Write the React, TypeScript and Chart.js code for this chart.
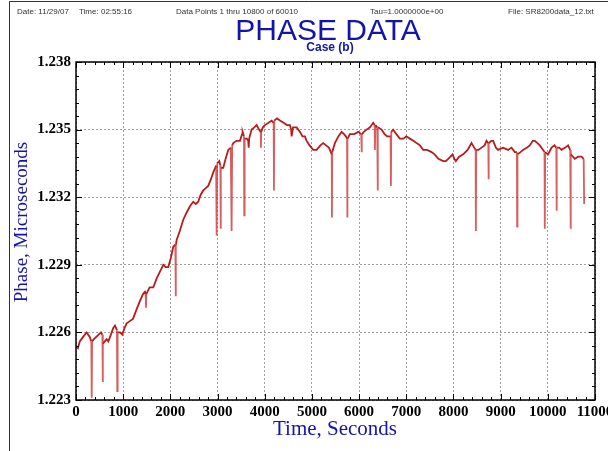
import { useEffect, useRef } from "react";
import { Chart, registerables } from "chart.js";

Chart.register(...registerables);

// Time (seconds) and phase (microseconds)
const times = [
  0, 40, 80, 150, 227, 290, 325, 333, 341, 380, 430, 480, 530, 560, 565, 572, 610, 650, 685, 740,
  790, 826, 868, 875, 882, 932, 980, 1030, 1074, 1140, 1208, 1280, 1356, 1420, 1462, 1478, 1483, 1490, 1560, 1638,
  1710, 1780, 1850, 1900, 1955, 2010, 2061, 2105, 2112, 2119, 2133, 2200, 2273, 2340, 2415, 2485, 2540, 2591, 2640, 2697,
  2750, 2803, 2860, 2909, 2970, 2981, 2992, 3036, 3060, 3065, 3072, 3121, 3170, 3227, 3280, 3298, 3310, 3333, 3400, 3475,
  3520, 3531, 3560, 3566, 3574, 3620, 3651, 3660, 3670, 3722, 3780, 3828, 3880, 3915, 3919, 3925, 3960, 4004, 4080, 4146,
  4190, 4195, 4202, 4260, 4322, 4400, 4470, 4534, 4560, 4570, 4600, 4676, 4746, 4800, 4852, 4888, 4950, 5028, 5100, 5180,
  5239, 5300, 5360, 5381, 5420, 5424, 5430, 5487, 5560, 5629, 5680, 5720, 5745, 5749, 5756, 5805, 5900, 5981, 6045, 6052,
  6060, 6100, 6159, 6230, 6299, 6330, 6335, 6345, 6385, 6392, 6400, 6477, 6540, 6595, 6668, 6674, 6682, 6722, 6790, 6864,
  6940, 7000, 7076, 7150, 7218, 7290, 7358, 7440, 7536, 7600, 7680, 7782, 7840, 7888, 7940, 7981, 8020, 8051, 8120, 8206,
  8300, 8383, 8440, 8470, 8475, 8482, 8530, 8595, 8660, 8701, 8738, 8743, 8750, 8800, 8841, 8900, 8947, 9050, 9159, 9230,
  9301, 9345, 9350, 9357, 9420, 9477, 9560, 9619, 9680, 9725, 9780, 9831, 9900, 9930, 9936, 9944, 10006, 10080, 10140, 10180,
  10184, 10192, 10240, 10290, 10370, 10430, 10475, 10481, 10490, 10572, 10640, 10714, 10760, 10770,
];

const phase = [
  1.2254, 1.2253, 1.2256, 1.2258, 1.226, 1.2258, 1.2256, 1.2231, 1.2256, 1.2257, 1.2258, 1.2259, 1.226, 1.2259, 1.2238, 1.2255, 1.2256, 1.2257, 1.2256, 1.2259,
  1.2262, 1.2263, 1.2261, 1.2234, 1.226, 1.226, 1.2259, 1.2262, 1.2264, 1.2265, 1.2266, 1.227, 1.2274, 1.2277, 1.2278, 1.2277, 1.2271, 1.2277, 1.228, 1.228,
  1.2284, 1.2287, 1.229, 1.2289, 1.2289, 1.2293, 1.2298, 1.2299, 1.2276, 1.2299, 1.2301, 1.2305, 1.231, 1.2313, 1.2316, 1.2318, 1.2317, 1.2318, 1.2321, 1.2323,
  1.2324, 1.2325, 1.2328, 1.2331, 1.2334, 1.2303, 1.2335, 1.2336, 1.2334, 1.2306, 1.2333, 1.2333, 1.2337, 1.2341, 1.2342, 1.2305, 1.2343, 1.2344, 1.2345, 1.2345,
  1.2348, 1.2349, 1.2347, 1.2312, 1.2346, 1.2346, 1.2345, 1.2342, 1.2346, 1.235, 1.2351, 1.2352, 1.235, 1.2349, 1.2342, 1.2349, 1.2351, 1.2352, 1.2353, 1.2354,
  1.2353, 1.2323, 1.2354, 1.2355, 1.2354, 1.2353, 1.2352, 1.2352, 1.235, 1.2347, 1.2351, 1.2351, 1.2349, 1.2347, 1.2347, 1.2345, 1.2343, 1.2341, 1.2341, 1.2343,
  1.2344, 1.2343, 1.2342, 1.2341, 1.2339, 1.2311, 1.234, 1.2344, 1.2347, 1.2349, 1.2348, 1.2347, 1.2346, 1.2311, 1.2346, 1.2348, 1.2348, 1.2349, 1.2348, 1.234,
  1.2348, 1.2349, 1.235, 1.2351, 1.2353, 1.2352, 1.2341, 1.2352, 1.2351, 1.2323, 1.2351, 1.235, 1.2348, 1.2347, 1.2347, 1.2325, 1.2349, 1.235, 1.2348, 1.2346,
  1.2346, 1.2347, 1.2346, 1.2345, 1.2344, 1.2343, 1.2341, 1.2341, 1.234, 1.2339, 1.2337, 1.2336, 1.2336, 1.2337, 1.2338, 1.2339, 1.2337, 1.2336, 1.2338, 1.2339,
  1.2341, 1.2344, 1.2342, 1.2341, 1.2305, 1.2341, 1.2341, 1.2342, 1.2343, 1.2345, 1.2344, 1.2328, 1.2344, 1.2345, 1.2345, 1.2342, 1.2341, 1.2342, 1.2341, 1.2342,
  1.234, 1.234, 1.2307, 1.2339, 1.234, 1.2341, 1.2342, 1.2343, 1.2345, 1.2345, 1.2344, 1.2343, 1.2341, 1.234, 1.2306, 1.234, 1.2339, 1.2342, 1.2343, 1.2342,
  1.2314, 1.2342, 1.2342, 1.2341, 1.2342, 1.2343, 1.2341, 1.2306, 1.2339, 1.2337, 1.2338, 1.2338, 1.2337, 1.2317,
];

const xMin = 0;
const xMax = 11000;
const xStep = 1000;
const xMinorStep = 200;
const yMin = 1.223;
const yMax = 1.238;
const yStep = 0.003;
const yMinorStep = 0.0006;

const headerItems = [
  { text: "Date: 11/29/07", x: 17 },
  { text: "Time: 02:55:16", x: 79 },
  { text: "Data Points 1 thru 10800 of 60010", x: 176 },
  { text: "Tau=1.0000000e+00", x: 370 },
  { text: "File: SR8200data_12.txt", x: 508 },
];
const titleText = "PHASE DATA";
const subtitleText = "Case (b)";
const xTitle = "Time, Seconds";
const yTitle = "Phase, Microseconds";

const BLUE = "#1414a8";
const LINE_RED = "#b81c1c";
const SPIKE_RED = "rgba(200,40,40,0.75)";

const decorPlugin = {
  id: "decor",
  afterDraw(chart: any) {
    const { ctx, chartArea: a, scales } = chart;
    const xs = scales.x;
    const ys = scales.y;
    ctx.save();
    ctx.strokeStyle = "#000";
    ctx.lineWidth = 1;
    const seg = (x1: number, y1: number, x2: number, y2: number) => {
      ctx.beginPath();
      ctx.moveTo(x1, y1);
      ctx.lineTo(x2, y2);
      ctx.stroke();
    };
    const nx = Math.round((xMax - xMin) / xMinorStep);
    for (let i = 0; i <= nx; i++) {
      const v = xMin + i * xMinorStep;
      const px = Math.round(xs.getPixelForValue(v)) + 0.5;
      const L = i % Math.round(xStep / xMinorStep) === 0 ? 6 : 3;
      seg(px, a.bottom, px, a.bottom - L);
      seg(px, a.top, px, a.top + L);
    }
    const ny = Math.round((yMax - yMin) / yMinorStep);
    for (let i = 0; i <= ny; i++) {
      const v = yMin + i * yMinorStep;
      const py = Math.round(ys.getPixelForValue(v)) + 0.5;
      const L = i % Math.round(yStep / yMinorStep) === 0 ? 6 : 3;
      seg(a.left, py, a.left + L, py);
      seg(a.right, py, a.right - L, py);
    }
    ctx.lineWidth = 1.5;
    ctx.strokeRect(a.left, a.top, a.right - a.left, a.bottom - a.top);
    ctx.lineWidth = 1;
    ctx.strokeStyle = "#333";
    seg(9.5, 1.5, 608, 1.5);
    seg(9.5, 1.5, 9.5, 451);

    ctx.fillStyle = "#333";
    ctx.font = "8px 'Liberation Sans', Arial, sans-serif";
    ctx.textAlign = "left";
    ctx.textBaseline = "alphabetic";
    headerItems.forEach((h) => ctx.fillText(h.text, h.x, 14));

    ctx.fillStyle = BLUE;
    ctx.textAlign = "center";
    ctx.font = "30px 'Liberation Sans', Arial, sans-serif";
    ctx.fillText(titleText, 328, 40);
    ctx.font = "bold 12px 'Liberation Sans', Arial, sans-serif";
    ctx.fillText(subtitleText, 330, 51);

    ctx.font = "21px 'Liberation Serif', 'Times New Roman', serif";
    ctx.fillText(xTitle, 335, 435);
    ctx.save();
    ctx.translate(27, 222);
    ctx.rotate(-Math.PI / 2);
    ctx.font = "19px 'Liberation Serif', 'Times New Roman', serif";
    ctx.fillText(yTitle, 0, 0);
    ctx.restore();

    ctx.restore();
  },
};

export default function App() {
  const ref = useRef<HTMLCanvasElement>(null);
  useEffect(() => {
    const tickFont = { family: "'Liberation Serif', 'Times New Roman', serif", size: 15, weight: "bold" as const };
    const gridOpts = { color: "rgba(120,120,120,0.7)", lineWidth: 1, drawTicks: false };
    const chart = new Chart(ref.current!, {
      type: "line",
      data: {
        datasets: [
          {
            data: times.map((t, i) => ({ x: t, y: phase[i] })),
            borderColor: LINE_RED,
            borderWidth: 1.8,
            pointRadius: 0,
            tension: 0,
            fill: false,
            segment: {
              borderColor: (c: any) =>
                Math.abs(c.p1.y - c.p0.y) > 12 && Math.abs(c.p1.x - c.p0.x) < 2 ? SPIKE_RED : undefined,
            },
          },
        ],
      },
      options: {
        animation: false,
        responsive: false,
        maintainAspectRatio: false,
        layout: { padding: { left: 0, top: 62, right: 13, bottom: 0 } },
        plugins: { legend: { display: false }, tooltip: { enabled: false }, title: { display: false } },
        scales: {
          x: {
            type: "linear",
            min: xMin,
            max: xMax,
            ticks: {
              stepSize: xStep,
              autoSkip: false,
              maxRotation: 0,
              padding: 3,
              color: "#000",
              font: tickFont,
              callback: (v: any) => String(Math.round(Number(v))),
            },
            grid: gridOpts,
            border: { display: false, dash: [2, 2] },
            afterFit(s: any) {
              s.height = 51;
              s.paddingLeft = 0;
              s.paddingRight = 0;
            },
          },
          y: {
            type: "linear",
            min: yMin,
            max: yMax,
            ticks: {
              stepSize: yStep,
              padding: 5,
              color: "#000",
              font: tickFont,
              callback: (v: any) => Number(v).toFixed(3),
            },
            grid: gridOpts,
            border: { display: false, dash: [2, 2] },
            afterFit(s: any) {
              s.width = 76;
              s.paddingTop = 0;
              s.paddingBottom = 0;
            },
          },
        },
      },
      plugins: [decorPlugin],
    } as any);
    return () => chart.destroy();
  }, []);
  return (
    <div style={{ position: "fixed", left: 0, top: 0, width: 608, height: 451, background: "#fff" }}>
      <canvas ref={ref} width={608} height={451} style={{ display: "block", width: 608, height: 451 }} />
    </div>
  );
}
